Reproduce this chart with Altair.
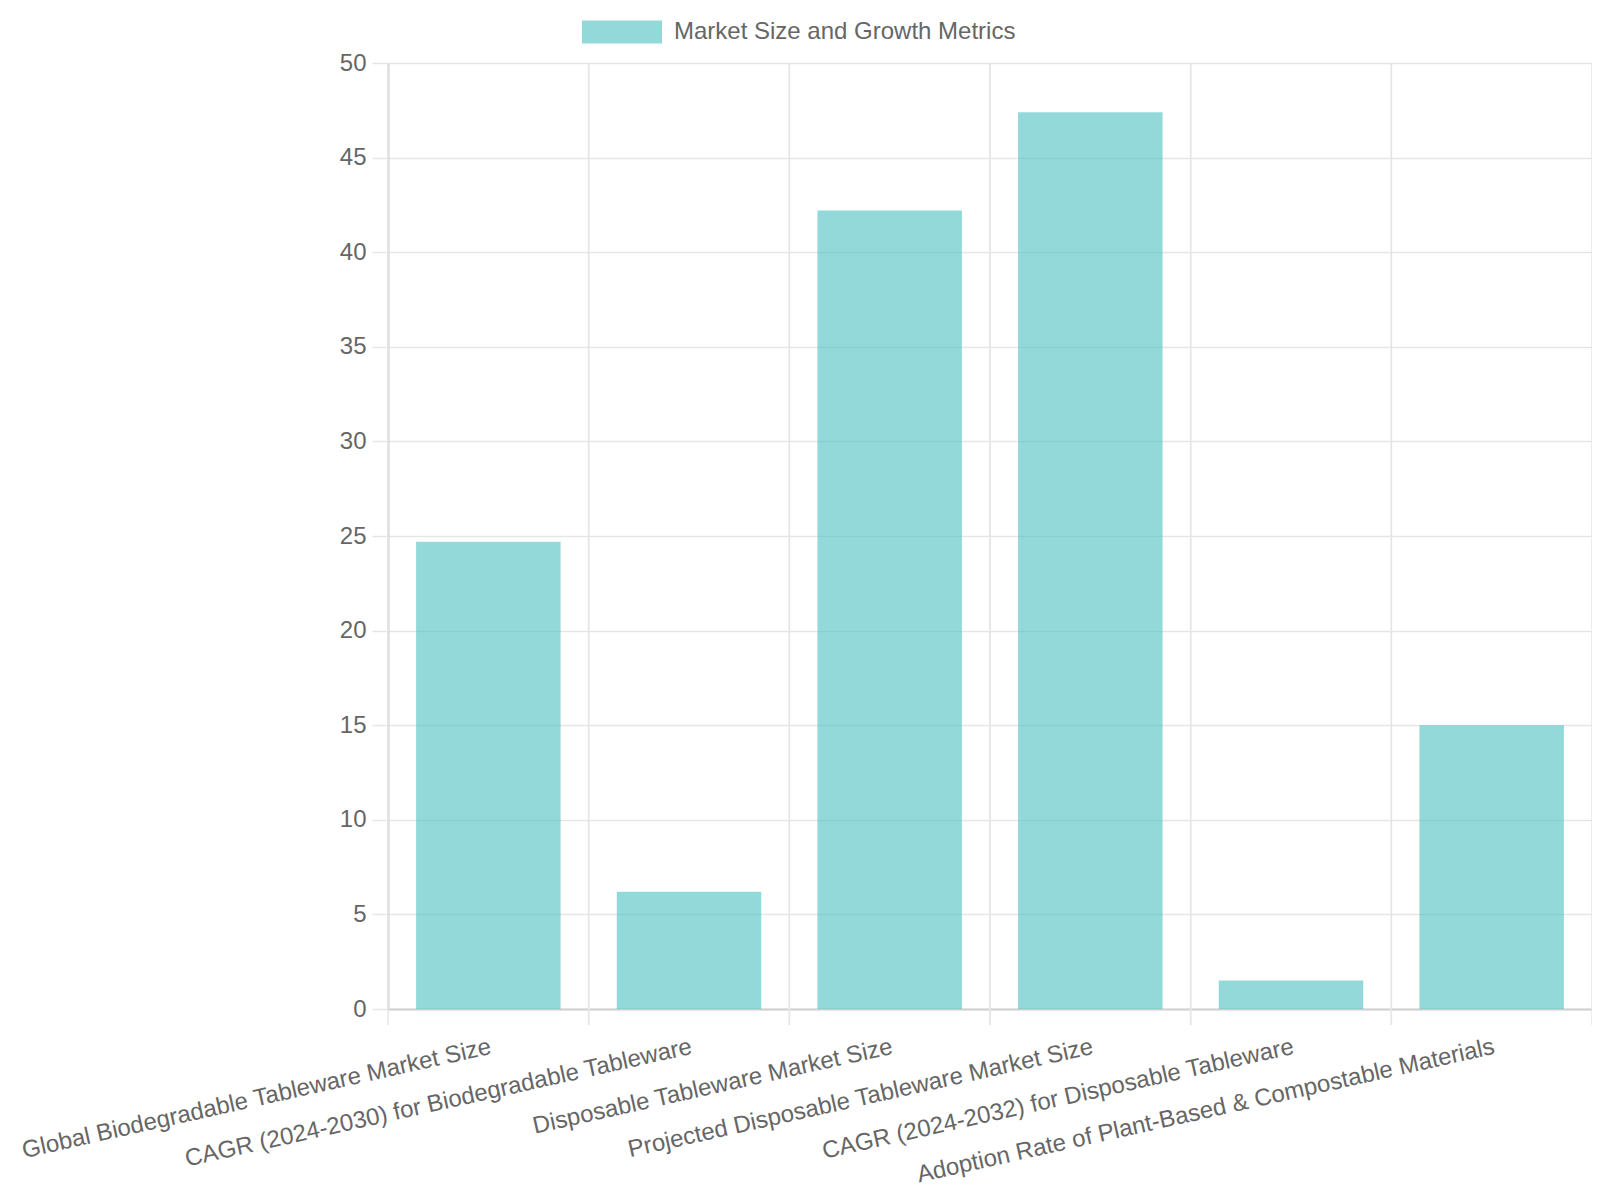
import altair as alt
import pandas as pd

categories = [
    "Global Biodegradable Tableware Market Size",
    "CAGR (2024-2030) for Biodegradable Tableware",
    "Disposable Tableware Market Size",
    "Projected Disposable Tableware Market Size",
    "CAGR (2024-2032) for Disposable Tableware",
    "Adoption Rate of Plant-Based & Compostable Materials",
]
values = [24.7, 6.2, 42.2, 47.4, 1.5, 15.0]
series_name = "Market Size and Growth Metrics"
y_ticks = list(range(0, 51, 5))

df = pd.DataFrame({
    "category": categories,
    "value": values,
    "series": [series_name] * len(categories),
})

W, H = 1204, 946
FONT = "Liberation Sans"
GRID = "#e6e6e6"
TEXT = "#666666"
DOMAIN = "#cfcfcf"

x_scale = alt.Scale(domain=categories, paddingInner=0, paddingOuter=0)
y_scale = alt.Scale(domain=[0, 50], nice=False)

x_axis = alt.Axis(
    title=None, grid=False, labelAngle=347.4, labelAlign="right",
    labelBaseline="alphabetic", labelFont=FONT, labelFontSize=24,
    labelColor=TEXT, labelLimit=0, labelOverlap=False, labelPadding=28,
    labelOffset=4,
    ticks=True, tickSize=16, tickOpacity=0, domainColor=DOMAIN, domainWidth=2,
)
y_axis = alt.Axis(
    title=None, values=y_ticks, grid=True, gridColor=GRID, gridWidth=1.5,
    tickColor=GRID, tickWidth=1.5, tickSize=16, labelPadding=6,
    labelFont=FONT, labelFontSize=24, labelColor=TEXT,
    domainColor=DOMAIN, domainWidth=2,
)

base = alt.Chart(df)

edges_start = base.mark_rule(color=GRID, strokeWidth=1.5).encode(
    x=alt.X("category:N", scale=x_scale, axis=x_axis, bandPosition=0),
    y=alt.value(0),
    y2=alt.value(H + 16),
)
edges_end = base.mark_rule(color=GRID, strokeWidth=1.5).encode(
    x=alt.X("category:N", scale=x_scale, axis=x_axis, bandPosition=1),
    y=alt.value(0),
    y2=alt.value(H + 16),
)

bars = base.mark_bar(width=alt.RelativeBandSize(0.72), opacity=0.6).encode(
    x=alt.X("category:N", scale=x_scale, axis=x_axis),
    y=alt.Y("value:Q", scale=y_scale, axis=y_axis),
    color=alt.Color(
        "series:N",
        scale=alt.Scale(range=["#4bc0c0"]),
        legend=alt.Legend(
            title=None, orient="none", legendX=194, legendY=-71,
            symbolType="M-1,-0.29H1V0.29H-1Z", symbolSize=6400,
            symbolStrokeWidth=0, symbolOpacity=0.6,
            labelFont=FONT, labelFontSize=24, labelColor=TEXT,
            labelOffset=12, labelLimit=0, padding=0,
        ),
    ),
)

chart = alt.layer(edges_start, edges_end, bars).properties(
    width=W,
    height=H,
    autosize=alt.AutoSizeParams(type="none"),
    padding={"left": 380, "top": 55, "right": 0, "bottom": 180},
).configure_view(strokeWidth=0)

chart.save("out.html", embed_options={"renderer": "svg", "actions": False})
